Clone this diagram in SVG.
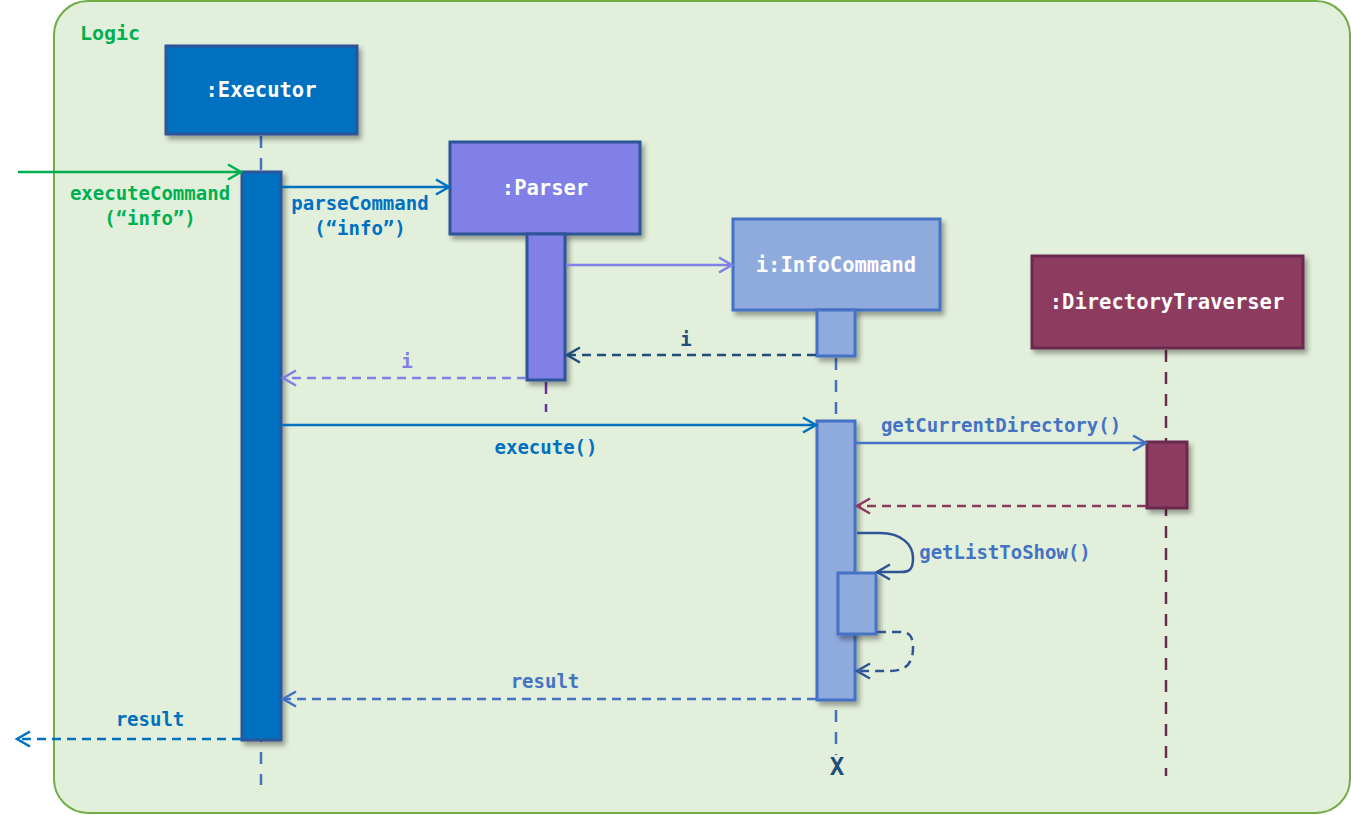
<svg xmlns="http://www.w3.org/2000/svg" width="1351" height="815" viewBox="0 0 1351 815">
<defs>
<style>
text{font-family:"DejaVu Sans Mono","Liberation Mono",monospace;font-weight:bold;text-anchor:middle}
.nl{font-size:20.5px;fill:#ffffff}
.ml{font-size:19px}
.box{stroke-width:3;filter:url(#sh)}
.act{stroke-width:3;filter:url(#sh)}
.msg{fill:none;stroke-width:2.5}
.dash{stroke-dasharray:9 6}
.life{fill:none;stroke-width:2.5;stroke-dasharray:12 10}
</style>
<filter id="sh" x="-20%" y="-20%" width="150%" height="150%">
<feDropShadow dx="3" dy="4" stdDeviation="2.5" flood-color="#000" flood-opacity="0.35"/>
</filter>
<marker id="aG" markerWidth="18" markerHeight="18" refX="15" refY="9" orient="auto" markerUnits="userSpaceOnUse"><path d="M2,1.5 L15,9 L2,16.5" fill="none" stroke="#00B050" stroke-width="2.5"/></marker>
<marker id="aB" markerWidth="18" markerHeight="18" refX="15" refY="9" orient="auto" markerUnits="userSpaceOnUse"><path d="M2,1.5 L15,9 L2,16.5" fill="none" stroke="#0070C0" stroke-width="2.5"/></marker>
<marker id="aP" markerWidth="18" markerHeight="18" refX="15" refY="9" orient="auto" markerUnits="userSpaceOnUse"><path d="M2,1.5 L15,9 L2,16.5" fill="none" stroke="#8080E6" stroke-width="2.5"/></marker>
<marker id="aD" markerWidth="18" markerHeight="18" refX="15" refY="9" orient="auto" markerUnits="userSpaceOnUse"><path d="M2,1.5 L15,9 L2,16.5" fill="none" stroke="#1F4E79" stroke-width="2.5"/></marker>
<marker id="aL" markerWidth="18" markerHeight="18" refX="15" refY="9" orient="auto" markerUnits="userSpaceOnUse"><path d="M2,1.5 L15,9 L2,16.5" fill="none" stroke="#4472C4" stroke-width="2.5"/></marker>
<marker id="aM" markerWidth="18" markerHeight="18" refX="15" refY="9" orient="auto" markerUnits="userSpaceOnUse"><path d="M2,1.5 L15,9 L2,16.5" fill="none" stroke="#8E3A60" stroke-width="2.5"/></marker>
<marker id="aN" markerWidth="18" markerHeight="18" refX="15" refY="9" orient="auto" markerUnits="userSpaceOnUse"><path d="M2,1.5 L15,9 L2,16.5" fill="none" stroke="#2F5597" stroke-width="2.5"/></marker>
</defs>

<g id="frame">
<rect x="54" y="1" width="1296" height="812" rx="34" ry="34" fill="#E2EFDA" stroke="#70AD47" stroke-width="2"/>
<text x="110" y="40" style="font-size:20px;fill:#00B050">Logic</text>
</g>

<g id="lifelines">
<line class="life" x1="261" y1="136" x2="261" y2="785" stroke="#4472C4"/>
<line class="life" x1="546" y1="382" x2="546" y2="412" stroke="#7030A0"/>
<line class="life" x1="836" y1="358" x2="836" y2="755" stroke="#4472C4"/>
<line class="life" x1="1166" y1="350" x2="1166" y2="776" stroke="#6B2A4F"/>
</g>

<g id="executor">
<rect class="box" x="166" y="46" width="191" height="88" fill="#0070C0" stroke="#2F5597"/>
<text class="nl" x="261" y="97">:Executor</text>
<rect class="act" x="242" y="172" width="39" height="568" fill="#0070C0" stroke="#2F5597"/>
</g>

<g id="parser">
<rect class="box" x="450" y="142" width="190" height="92" fill="#8080E6" stroke="#2F5597"/>
<text class="nl" x="545" y="195">:Parser</text>
<rect class="act" x="527" y="234" width="38" height="146" fill="#8080E6" stroke="#2F5597"/>
</g>

<g id="infocommand">
<rect class="box" x="733" y="219" width="207" height="91" fill="#8FAADC" stroke="#4472C4"/>
<text class="nl" x="836" y="272">i:InfoCommand</text>
<rect class="act" x="817" y="310" width="38" height="46" fill="#8FAADC" stroke="#4472C4"/>
<rect class="act" x="817" y="421" width="38" height="279" fill="#8FAADC" stroke="#4472C4"/>
<rect class="act" x="838" y="573" width="38" height="61" fill="#8FAADC" stroke="#4472C4"/>
<text x="837" y="775" style="font-size:24px;fill:#1F4E79">X</text>
</g>

<g id="directorytraverser">
<rect class="box" x="1032" y="256" width="271" height="92" fill="#8E3A60" stroke="#6B2A4F"/>
<text class="nl" x="1167" y="309">:DirectoryTraverser</text>
<rect class="act" x="1147" y="442" width="40" height="66" fill="#8E3A60" stroke="#6B2A4F"/>
</g>

<g id="connectors">
<line class="msg" x1="18" y1="172" x2="241" y2="172" stroke="#00B050" marker-end="url(#aG)"/>
<text class="ml" x="150" y="200" fill="#00B050">executeCommand</text>
<text class="ml" x="150" y="225" fill="#00B050">(“info”)</text>

<line class="msg" x1="282" y1="187" x2="449" y2="187" stroke="#0070C0" marker-end="url(#aB)"/>
<text class="ml" x="360" y="210" fill="#0070C0">parseCommand</text>
<text class="ml" x="360" y="235" fill="#0070C0">(“info”)</text>

<line class="msg" x1="566" y1="265" x2="732" y2="265" stroke="#8080E6" marker-end="url(#aP)"/>

<line class="msg dash" x1="816" y1="355" x2="567" y2="355" stroke="#1F4E79" marker-end="url(#aD)"/>
<text class="ml" x="686" y="346" fill="#1F4E79">i</text>

<line class="msg dash" x1="526" y1="378" x2="283" y2="378" stroke="#8080E6" marker-end="url(#aP)"/>
<text class="ml" x="407" y="368" fill="#8080E6">i</text>

<line class="msg" x1="282" y1="425" x2="816" y2="425" stroke="#0070C0" marker-end="url(#aB)"/>
<text class="ml" x="546" y="454" fill="#0070C0">execute()</text>

<line class="msg" x1="856" y1="443" x2="1146" y2="443" stroke="#4472C4" marker-end="url(#aL)"/>
<text class="ml" x="1001" y="432" fill="#4472C4">getCurrentDirectory()</text>

<line class="msg dash" x1="1146" y1="506" x2="857" y2="506" stroke="#8E3A60" marker-end="url(#aM)"/>

<path class="msg" d="M857,533 L880,533 C902,533 913,545 913,558 C913,570 909,572 901,572 L877,572" stroke="#2F5597" marker-end="url(#aN)"/>
<text class="ml" x="1005" y="559" fill="#4472C4">getListToShow()</text>

<path class="msg dash" d="M877,632 L900,632 C910,632 913,637 913,648 C913,664 905,671 890,671 L857,671" stroke="#2F5597" marker-end="url(#aN)"/>

<line class="msg dash" x1="816" y1="699" x2="283" y2="699" stroke="#4472C4" marker-end="url(#aL)"/>
<text class="ml" x="545" y="688" fill="#4472C4">result</text>

<line class="msg dash" x1="241" y1="739" x2="17" y2="739" stroke="#0070C0" marker-end="url(#aB)"/>
<text class="ml" x="150" y="726" fill="#0070C0">result</text>
</g>
</svg>
